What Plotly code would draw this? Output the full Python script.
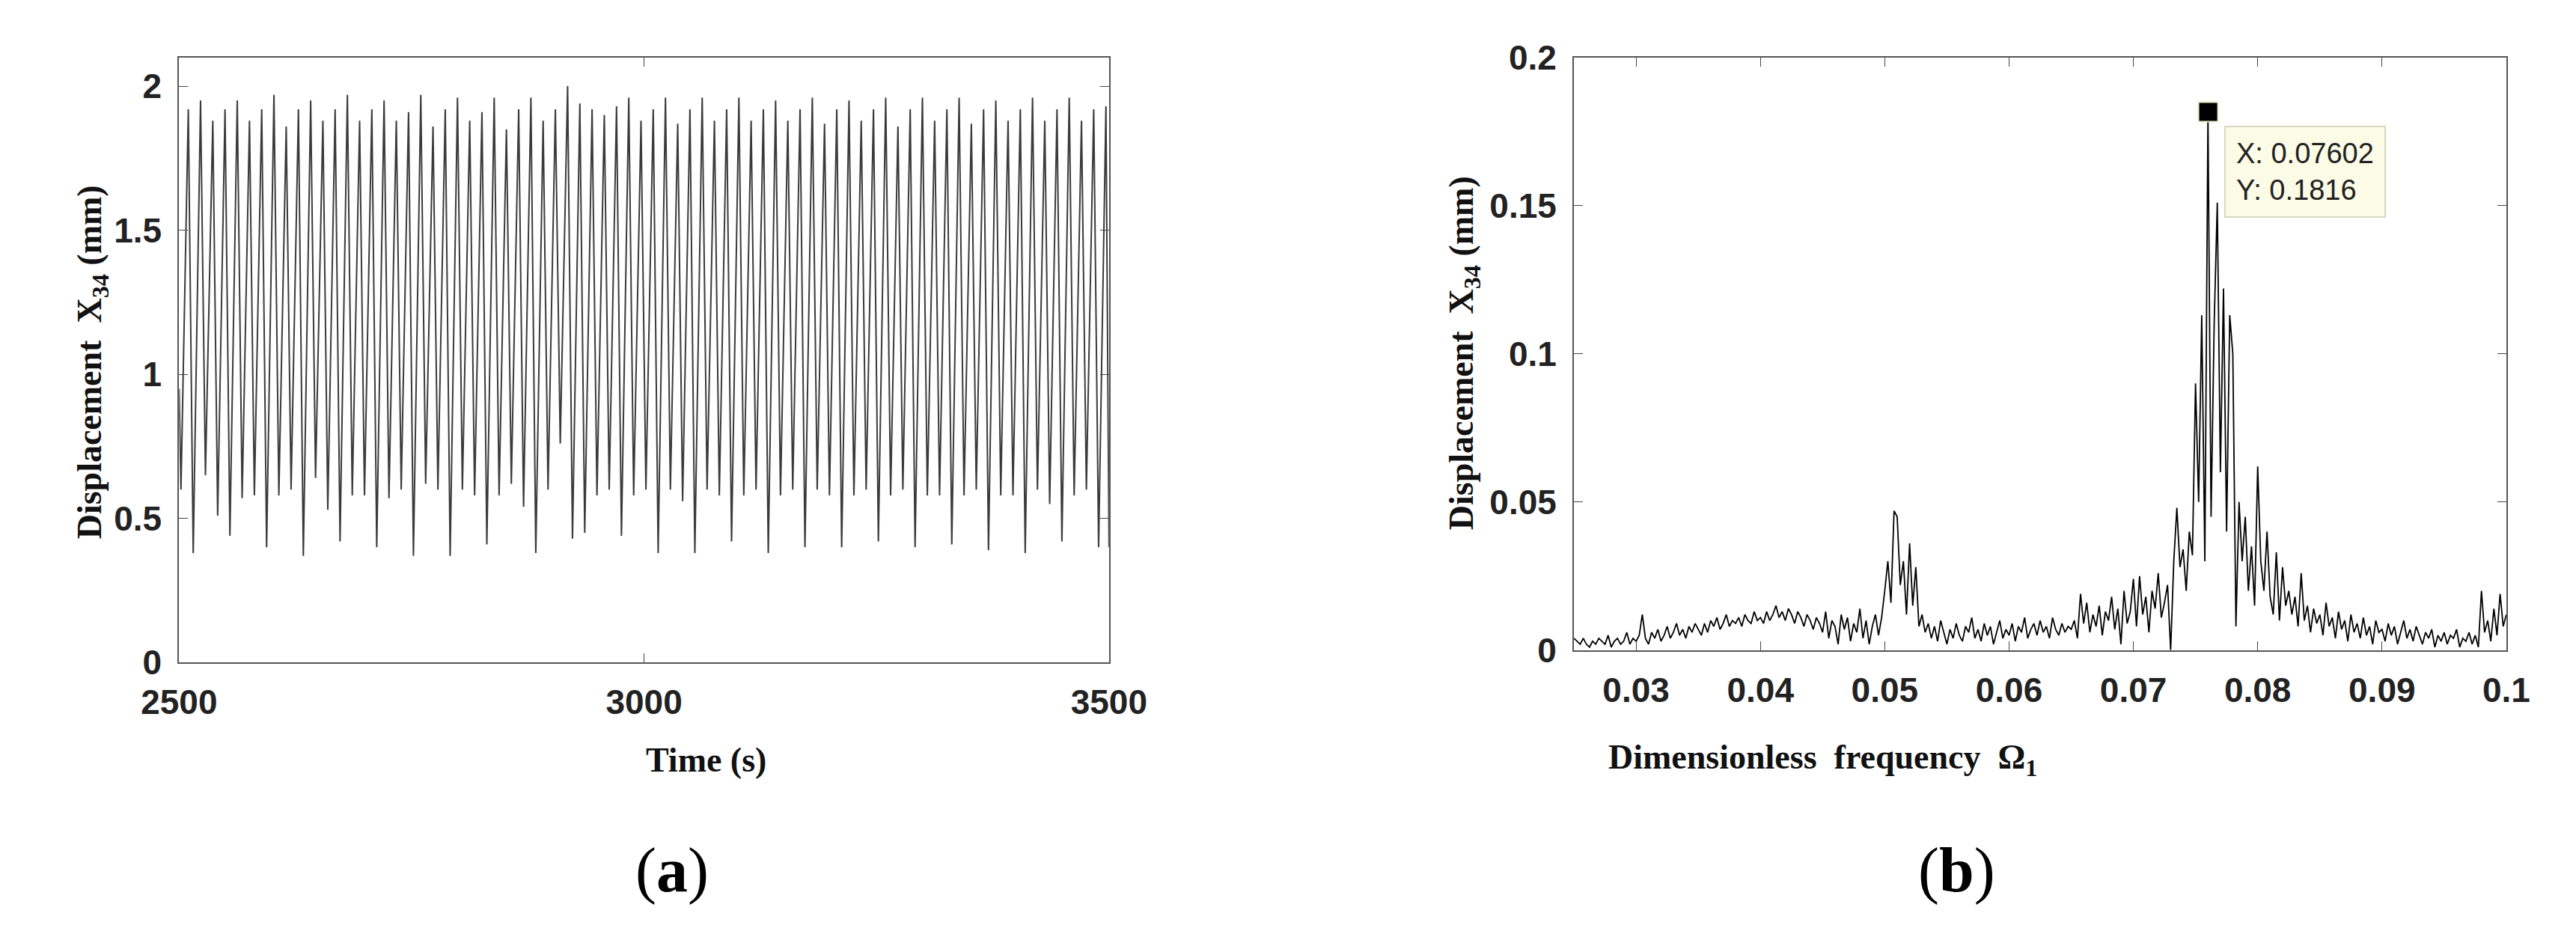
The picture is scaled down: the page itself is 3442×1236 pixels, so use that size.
import numpy as np
import plotly.graph_objects as go

# panel (a): peak and trough values of the time response
peaks = [1.92, 1.95, 1.88, 1.92, 1.95, 1.88, 1.92, 1.97, 1.86, 1.92, 1.95, 1.88, 1.92, 1.97, 1.88, 1.92,
         1.95, 1.88, 1.91, 1.97, 1.86, 1.92, 1.96, 1.88, 1.91, 1.96, 1.85, 1.92, 1.96, 1.88, 1.92, 2.00,
         1.94, 1.92, 1.90, 1.93, 1.96, 1.88, 1.92, 1.96, 1.87, 1.92, 1.96, 1.88, 1.92, 1.96, 1.88, 1.92,
         1.95, 1.88, 1.92, 1.96, 1.87, 1.92, 1.95, 1.88, 1.92, 1.96, 1.86, 1.92, 1.96, 1.88, 1.92, 1.96,
         1.87, 1.92, 1.95, 1.88, 1.92, 1.96, 1.88, 1.92, 1.96, 1.88, 1.92, 1.93]
troughs = [0.60, 0.38, 0.65, 0.51, 0.44, 0.57, 0.58, 0.40, 0.58, 0.60, 0.37, 0.64, 0.53, 0.42, 0.58, 0.58,
           0.40, 0.57, 0.60, 0.37, 0.62, 0.60, 0.37, 0.60, 0.58, 0.41, 0.58, 0.62, 0.54, 0.38, 0.60, 0.76,
           0.43, 0.45, 0.58, 0.60, 0.44, 0.58, 0.60, 0.38, 0.60, 0.56, 0.38, 0.60, 0.58, 0.42, 0.58, 0.60,
           0.38, 0.58, 0.60, 0.40, 0.60, 0.58, 0.40, 0.58, 0.60, 0.42, 0.58, 0.60, 0.40, 0.58, 0.58, 0.41,
           0.58, 0.60, 0.39, 0.58, 0.58, 0.38, 0.60, 0.55, 0.42, 0.58, 0.60, 0.40]

# panel (b): spectrum amplitude, 0.025 .. 0.1 in steps of 0.00025
spectrum = [
    0.004, 0.003, 0.002, 0.004, 0.002, 0.001, 0.003, 0.002, 0.004, 0.003, 0.002, 0.005, 0.001, 0.003, 0.004, 0.002, 0.003, 0.006, 0.002, 0.004,
    0.003, 0.005, 0.012, 0.004, 0.002, 0.006, 0.004, 0.007, 0.003, 0.005, 0.008, 0.004, 0.006, 0.009, 0.005, 0.007, 0.004, 0.008, 0.006, 0.009,
    0.007, 0.005, 0.009, 0.006, 0.010, 0.008, 0.011, 0.007, 0.009, 0.012, 0.008, 0.010, 0.009, 0.011, 0.008, 0.012, 0.010, 0.009, 0.013, 0.010,
    0.011, 0.009, 0.013, 0.010, 0.012, 0.015, 0.011, 0.013, 0.010, 0.014, 0.012, 0.009, 0.013, 0.011, 0.008, 0.012, 0.010, 0.007, 0.011, 0.009,
    0.006, 0.013, 0.004, 0.010, 0.008, 0.002, 0.012, 0.007, 0.011, 0.003, 0.009, 0.006, 0.014, 0.004, 0.010, 0.002, 0.008, 0.012, 0.005, 0.011,
    0.020, 0.030, 0.016, 0.047, 0.045, 0.022, 0.030, 0.012, 0.036, 0.015, 0.028, 0.008, 0.012, 0.006, 0.009, 0.004, 0.008, 0.003, 0.010, 0.006,
    0.002, 0.007, 0.004, 0.009, 0.005, 0.003, 0.008, 0.006, 0.011, 0.004, 0.007, 0.003, 0.009, 0.005, 0.008, 0.002, 0.006, 0.010, 0.004, 0.007,
    0.005, 0.009, 0.003, 0.008, 0.006, 0.011, 0.004, 0.007, 0.009, 0.005, 0.010, 0.006, 0.008, 0.004, 0.011, 0.007, 0.005, 0.009, 0.006, 0.008,
    0.007, 0.010, 0.004, 0.019, 0.009, 0.016, 0.006, 0.012, 0.008, 0.015, 0.005, 0.013, 0.010, 0.018, 0.007, 0.014, 0.002, 0.020, 0.009, 0.013,
    0.024, 0.008, 0.025, 0.012, 0.018, 0.006, 0.020, 0.014, 0.026, 0.011, 0.016, 0.022, 0.000, 0.030, 0.048, 0.028, 0.034, 0.020, 0.040, 0.032,
    0.090, 0.050, 0.113, 0.030, 0.1816, 0.045, 0.110, 0.151, 0.060, 0.122, 0.040, 0.113, 0.100, 0.008, 0.050, 0.030, 0.045, 0.020, 0.035, 0.015,
    0.062, 0.030, 0.020, 0.040, 0.018, 0.012, 0.033, 0.010, 0.028, 0.015, 0.020, 0.012, 0.018, 0.008, 0.026, 0.010, 0.015, 0.006, 0.014, 0.009,
    0.012, 0.005, 0.016, 0.008, 0.011, 0.004, 0.013, 0.007, 0.010, 0.003, 0.012, 0.006, 0.009, 0.004, 0.011, 0.005, 0.008, 0.002, 0.010, 0.006,
    0.007, 0.003, 0.009, 0.005, 0.008, 0.002, 0.006, 0.010, 0.004, 0.007, 0.003, 0.008, 0.005, 0.002, 0.006, 0.004, 0.007, 0.001, 0.005, 0.003,
    0.006, 0.002, 0.005, 0.004, 0.007, 0.001, 0.004, 0.003, 0.006, 0.002, 0.005, 0.001, 0.020, 0.006, 0.010, 0.003, 0.014, 0.005, 0.019, 0.008,
    0.012,
]
tip_x, tip_y = 0.07602, 0.1816

# build zigzag time series: trough then peak each cycle
n = len(peaks)
period = 1000.0 / n
t, disp = [2500.0], [0.95]
for i in range(n):
    t += [2500 + period * (i + 0.15), 2500 + period * (i + 0.75)]
    disp += [troughs[i], peaks[i]]
t.append(3500.0)
disp.append(0.40)

freq = np.linspace(0.025, 0.1, len(spectrum))

fig = go.Figure()
fig.add_trace(go.Scatter(x=t, y=disp, mode="lines", line=dict(color="#3a3a3a", width=2),
                         xaxis="x", yaxis="y", showlegend=False))
fig.add_trace(go.Scatter(x=freq, y=spectrum, mode="lines", line=dict(color="black", width=1.8),
                         xaxis="x2", yaxis="y2", showlegend=False))
fig.add_trace(go.Scatter(x=[tip_x], y=[tip_y], mode="markers",
                         marker=dict(symbol="square", size=26, color="black", line=dict(color="#e8e8c8", width=2)),
                         xaxis="x2", yaxis="y2", showlegend=False))

tickfont = dict(family="Liberation Sans", size=46, color="#222", weight="bold")
ax = dict(showgrid=False, zeroline=False, mirror="allticks", ticks="inside", ticklen=12,
          showline=True, linecolor="#555", linewidth=2, tickfont=tickfont, ticklabelstandoff=12)

fig.update_layout(
    width=3442, height=1236, margin=dict(l=0, r=0, t=0, b=0),
    paper_bgcolor="white", plot_bgcolor="white",
    xaxis=dict(ax, domain=[0.054, 0.426], range=[2500, 3500], tickvals=[2500, 3000, 3500], anchor="y"),
    yaxis=dict(ax, domain=[0.281, 0.964], range=[0, 2.1], tickvals=[0, 0.5, 1, 1.5, 2],
               ticktext=["0", "0.5", "1", "1.5", "2"], anchor="x"),
    xaxis2=dict(ax, domain=[0.612, 0.985], range=[0.025, 0.1],
                tickvals=[0.03, 0.04, 0.05, 0.06, 0.07, 0.08, 0.09, 0.1],
                ticktext=["0.03", "0.04", "0.05", "0.06", "0.07", "0.08", "0.09", "0.1"], anchor="y2"),
    yaxis2=dict(ax, domain=[0.295, 0.964], range=[0, 0.2], tickvals=[0, 0.05, 0.1, 0.15, 0.2],
                ticktext=["0", "0.05", "0.1", "0.15", "0.2"], anchor="x2"),
)

title_font = dict(family="Liberation Serif", size=46, color="#111")
notes = [
    dict(x=0.240, y=0.148, text="<b>Time (s)</b>"),
    dict(x=0.010, y=0.62, text="<b>Displacement  X<sub>34</sub> (mm)</b>", textangle=-90),
    dict(x=0.798, y=0.145, text="<b>Dimensionless  frequency  Ω<sub>1</sub></b>"),
    dict(x=0.568, y=0.63, text="<b>Displacement  X<sub>34</sub> (mm)</b>", textangle=-90),
]
for a in notes:
    fig.add_annotation(xref="paper", yref="paper", showarrow=False, font=title_font, **a)

fig.add_annotation(xref="paper", yref="paper", x=0.236, y=0.005, showarrow=False, text="(<b>a</b>)",
                   font=dict(family="Liberation Serif", size=84, color="black"))
fig.add_annotation(xref="paper", yref="paper", x=0.781, y=0.005, showarrow=False, text="(<b>b</b>)",
                   font=dict(family="Liberation Serif", size=84, color="black"))

fig.add_annotation(xref="x2", yref="y2", x=0.0773, y=0.177, xanchor="left", yanchor="top",
                   showarrow=False, align="left", text="X: 0.07602<br>Y: 0.1816",
                   font=dict(family="Liberation Sans", size=38, color="#222"),
                   bgcolor="#fbfbe6", bordercolor="#d8d8c0", borderwidth=2, borderpad=14)

fig.write_html("out.html")
